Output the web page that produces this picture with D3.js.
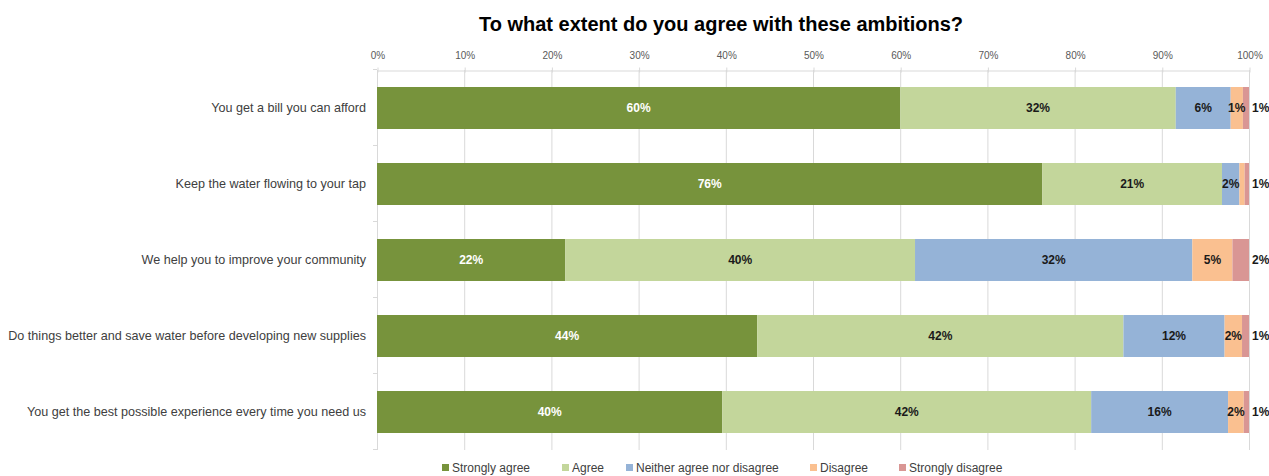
<!DOCTYPE html>
<html>
<head>
<meta charset="utf-8">
<script src="https://cdn.jsdelivr.net/npm/d3@7"></script>
<style>
  html, body { margin: 0; padding: 0; background: #fff; }
  svg { display: block; font-family: "Liberation Sans", Arial, sans-serif; }
</style>
</head>
<body>
<svg id="chart" width="1269" height="476"></svg>
<script>
// Survey statements (top to bottom)
const categories = [
  "You get a bill you can afford",
  "Keep the water flowing to your tap",
  "We help you to improve your community",
  "Do things better and save water before developing new supplies",
  "You get the best possible experience every time you need us"
];

// Response options, in stacking order
const seriesNames = ["Strongly agree", "Agree", "Neither agree nor disagree", "Disagree", "Strongly disagree"];

// Share of respondents (%) for each response, one value per statement
const stronglyAgree = [60.0, 76.3, 21.6, 43.6, 39.6];
const agree         = [31.6, 20.6, 40.1, 42.0, 42.3];
const neither       = [6.3,  2.0,  31.8, 11.6, 15.7];
const disagree      = [1.4,  0.6,  4.6,  2.0,  1.8];
const stronglyDis   = [0.7,  0.5,  1.9,  0.8,  0.6];

const tickValues = [0, 10, 20, 30, 40, 50, 60, 70, 80, 90, 100];

const colors = ["#77933C", "#C3D69B", "#95B3D7", "#FAC090", "#D99694"];
const labelColors = ["#ffffff", "#1a1a1a", "#1a1a1a", "#1a1a1a", "#1a1a1a"];

const rows = categories.map((c, i) => ({
  category: c,
  "Strongly agree": stronglyAgree[i],
  "Agree": agree[i],
  "Neither agree nor disagree": neither[i],
  "Disagree": disagree[i],
  "Strongly disagree": stronglyDis[i]
}));

const svg = d3.select("#chart");
const plot = { left: 377, right: 1249, top: 70, bottom: 450 };

const x = d3.scaleLinear().domain([0, 100]).range([plot.left, plot.right]);
const pad = 34 / 76;
const y = d3.scaleBand()
  .domain(categories)
  .range([plot.top, plot.bottom])
  .paddingInner(pad)
  .paddingOuter(pad / 2);

// Title
svg.append("text")
  .attr("x", 721)
  .attr("y", 31)
  .attr("text-anchor", "middle")
  .attr("font-size", 20)
  .attr("font-weight", "bold")
  .attr("fill", "#000")
  .text("To what extent do you agree with these ambitions?");

// Vertical gridlines
svg.append("g")
  .selectAll("line")
  .data(tickValues)
  .join("line")
  .attr("x1", d => x(d) + 0.5)
  .attr("x2", d => x(d) + 0.5)
  .attr("y1", plot.top)
  .attr("y2", plot.bottom)
  .attr("stroke", "#D9D9D9")
  .attr("stroke-width", 1);

// Top percentage axis
const xAxis = svg.append("g")
  .attr("transform", `translate(0.5,${plot.top + 0.5})`)
  .call(d3.axisTop(x).tickValues(tickValues).tickFormat(d => d + "%").tickSizeInner(4).tickSizeOuter(0).tickPadding(8));
xAxis.select(".domain").attr("stroke", "#D9D9D9");
xAxis.selectAll(".tick line").attr("stroke", "#D9D9D9").attr("y2", 2).attr("y1", -3);
xAxis.selectAll(".tick text")
  .attr("fill", "#595959")
  .attr("font-size", 10)
  .attr("font-family", "Liberation Sans, Arial, sans-serif");

// Left category axis: line plus ticks at band boundaries
const leftAxis = svg.append("g");
leftAxis.append("line")
  .attr("x1", plot.left + 0.5).attr("x2", plot.left + 0.5)
  .attr("y1", plot.top).attr("y2", plot.bottom)
  .attr("stroke", "#D9D9D9");
const boundaries = categories.map(c => y(c) - y.step() * pad / 2).concat([plot.bottom]);
leftAxis.selectAll("line.tk")
  .data(boundaries)
  .join("line")
  .attr("class", "tk")
  .attr("x1", plot.left - 4).attr("x2", plot.left)
  .attr("y1", d => Math.round(d) - 0.5).attr("y2", d => Math.round(d) - 0.5)
  .attr("stroke", "#D9D9D9");

// Category labels
svg.append("g")
  .selectAll("text")
  .data(categories)
  .join("text")
  .attr("x", 366)
  .attr("y", d => y(d) + y.bandwidth() / 2)
  .attr("dy", "0.35em")
  .attr("text-anchor", "end")
  .attr("font-size", 12.6)
  .attr("fill", "#404040")
  .text(d => d);

// Stacked bars
const stack = d3.stack().keys(seriesNames);
const layers = stack(rows);

const layerG = svg.append("g")
  .selectAll("g")
  .data(layers)
  .join("g")
  .attr("fill", (d, i) => colors[i]);

layerG.selectAll("rect")
  .data(d => d)
  .join("rect")
  .attr("x", d => x(d[0]))
  .attr("y", d => y(d.data.category))
  .attr("width", d => x(d[1]) - x(d[0]))
  .attr("height", y.bandwidth());

// Value labels: centred in each segment (skipped where the segment is too thin);
// the last segment is labelled just past the bar end
const labelG = svg.append("g")
  .attr("font-size", 12)
  .attr("font-weight", "bold");

layers.forEach((layer, li) => {
  const last = li === layers.length - 1;
  const shown = last ? layer : layer.filter(d => x(d[1]) - x(d[0]) >= 8);
  labelG.selectAll(null)
    .data(shown)
    .join("text")
    .attr("x", d => last ? x(d[1]) + 3 : (x(d[0]) + x(d[1])) / 2)
    .attr("y", d => y(d.data.category) + y.bandwidth() / 2)
    .attr("dy", "0.35em")
    .attr("text-anchor", last ? "start" : "middle")
    .attr("fill", labelColors[li])
    .text(d => Math.round(d[1] - d[0]) + "%");
});

// Legend
const legendX = [442, 562, 626, 810, 899];
const legend = svg.append("g")
  .selectAll("g")
  .data(seriesNames)
  .join("g")
  .attr("transform", (d, i) => `translate(${legendX[i]},468)`);
legend.append("rect")
  .attr("x", 0).attr("y", -4)
  .attr("width", 7).attr("height", 7)
  .attr("fill", (d, i) => colors[i]);
legend.append("text")
  .attr("x", 10)
  .attr("y", 0)
  .attr("dy", "0.35em")
  .attr("font-size", 12)
  .attr("fill", "#404040")
  .text(d => d);
</script>
</body>
</html>
